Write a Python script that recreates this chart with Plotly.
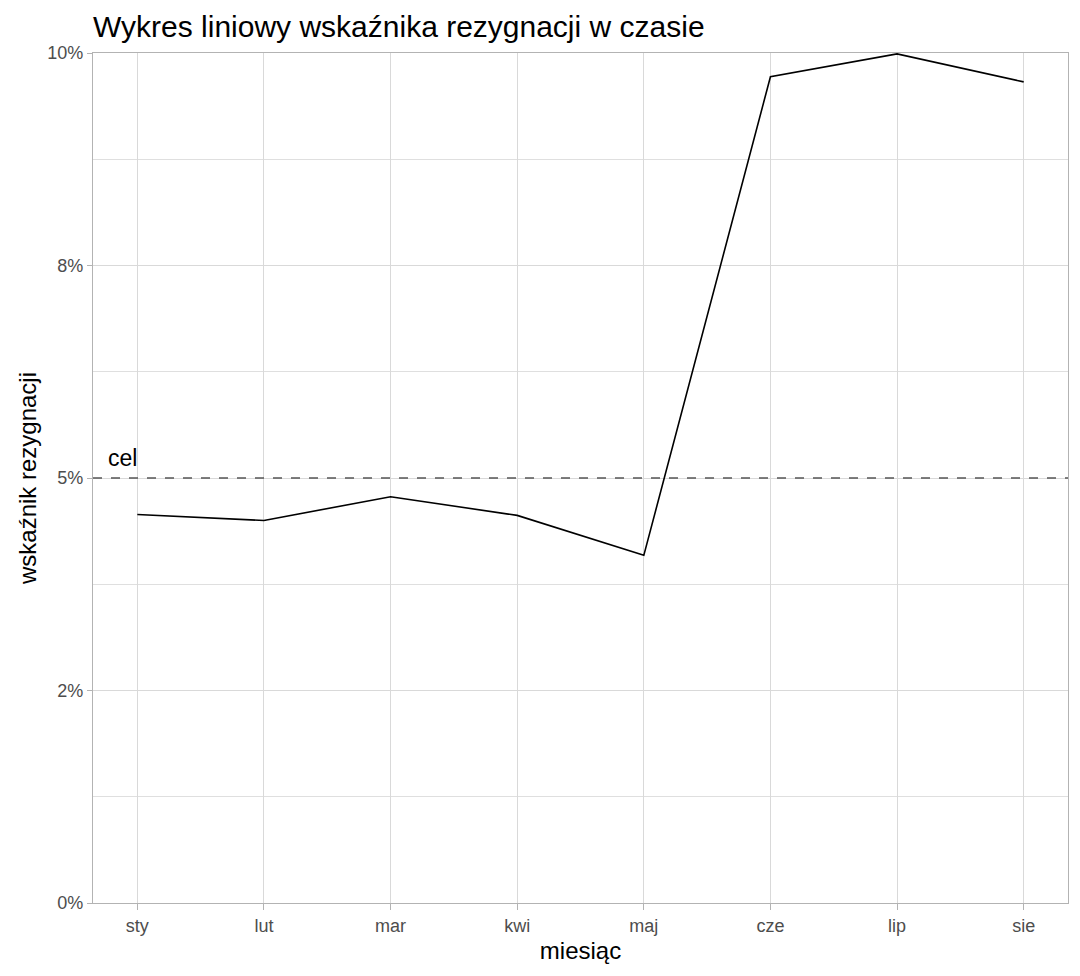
import plotly.graph_objects as go

# dane
miesiace = ["sty", "lut", "mar", "kwi", "maj", "cze", "lip", "sie"]
wskaznik = [0.0457, 0.0450, 0.0478, 0.0456, 0.0409, 0.0972, 0.0999, 0.0966]
cel = 0.05
y_ticks = [0.0, 0.025, 0.05, 0.075, 0.1]
y_tick_labels = ["0%", "2%", "5%", "8%", "10%"]
y_minor = [0.0125, 0.0375, 0.0625, 0.0875]

FONT = "Liberation Sans, Arial, sans-serif"
pos = list(range(len(miesiace)))

fig = go.Figure()
fig.add_trace(go.Scatter(
    x=pos, y=wskaznik, mode="lines",
    line=dict(color="black", width=1.6),
    showlegend=False, hoverinfo="skip"))

# linia celu
fig.add_hline(y=cel, line=dict(color="#555555", width=1.3, dash="dash"))
fig.add_annotation(x=-0.25, y=cel, text="cel", showarrow=False,
                   xanchor="left", yanchor="bottom", yshift=5,
                   font=dict(family=FONT, size=23, color="black"))

fig.update_layout(
    width=1080, height=976,
    margin=dict(l=85, r=20, t=45, b=81),
    paper_bgcolor="white", plot_bgcolor="white",
    font=dict(family=FONT),
    title=dict(text="Wykres liniowy wskaźnika rezygnacji w czasie",
               x=85 / 1080, xanchor="left", xref="container",
               y=1 - 18 / 976, yanchor="middle", yref="container",
               font=dict(family=FONT, size=30, color="black")),
)

fig.update_xaxes(
    range=[-0.35, len(miesiace) - 1 + 0.35],
    tickvals=pos, ticktext=miesiace,
    showgrid=True, gridcolor="#d9d9d9", gridwidth=1.3,
    zeroline=False,
    showline=True, mirror=True, linecolor="#b3b3b3", linewidth=1.3,
    ticks="outside", ticklen=6, tickcolor="#b3b3b3",
    tickfont=dict(family=FONT, size=18, color="#4d4d4d"),
    title=dict(text="miesiąc", standoff=7,
               font=dict(family=FONT, size=24, color="black")),
)

fig.update_yaxes(
    range=[0, 0.1],
    tickvals=y_ticks, ticktext=y_tick_labels,
    showgrid=True, gridcolor="#d9d9d9", gridwidth=1.3,
    minor=dict(tickvals=y_minor, showgrid=True, gridcolor="#dfdfdf",
               gridwidth=1.1, ticks=""),
    zeroline=False,
    showline=True, mirror=True, linecolor="#b3b3b3", linewidth=1.3,
    ticks="outside", ticklen=5, tickcolor="#b3b3b3",
    tickfont=dict(family=FONT, size=18, color="#4d4d4d"),
    title=dict(text="wskaźnik rezygnacji", standoff=3,
               font=dict(family=FONT, size=24, color="black")),
)

fig.write_html("out.html")
